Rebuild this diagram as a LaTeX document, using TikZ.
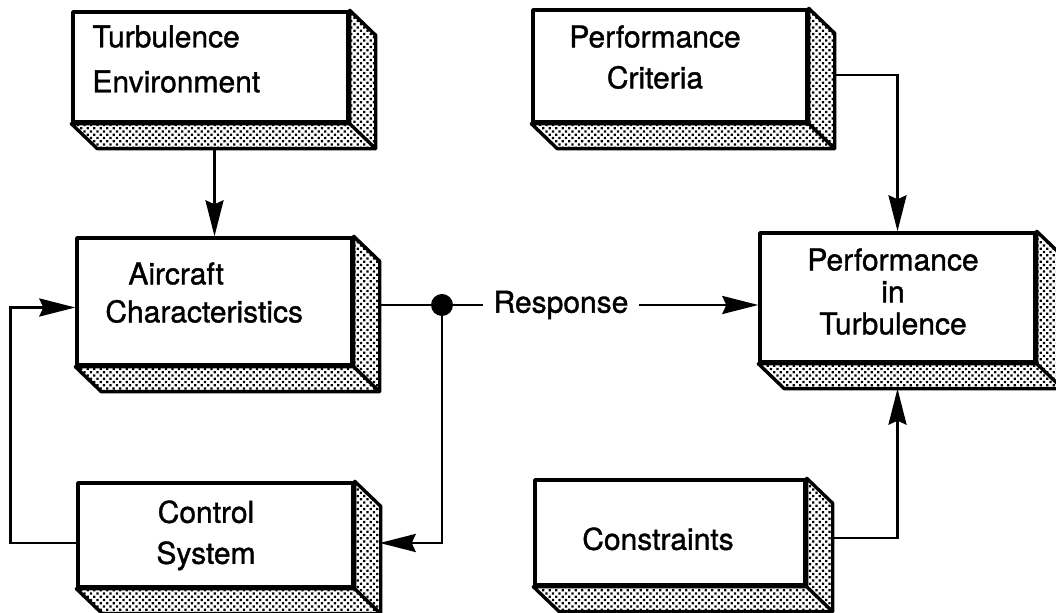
\documentclass[tikz,border=0pt]{standalone}
\usepackage{fontspec}
\setmainfont{TeX Gyre Heros}[FakeBold=1.2]
\newfontfamily\heavysans{TeX Gyre Heros}[FakeBold=1.2]
\usetikzlibrary{arrows.meta,patterns.meta,calc,fit}

\tikzset{
  every node/.style={font=\heavysans\fontsize{15}{19}\selectfont},
  front/.style={draw, line width=1.7pt, inner sep=0pt, line join=round},
  face/.style={draw, line width=1.7pt, line join=round,
    pattern={Dots[distance=2.3pt, angle=45, radius=0.8pt]}, pattern color=black},
  wire/.style={line width=1.3pt},
  arrow/.style={wire, -{Stealth[length=18pt, width=9pt, inset=2pt]}},
  junction/.style={circle, fill, inner sep=0pt, minimum size=11pt},
  caption/.style={inner sep=0pt, align=center},
}

% shaded bottom and right faces of a block, drawn behind its front face
\newcommand\slabdepth[1]{%
  \path[face] (#1.south west) -- ++(26,25) -- ($(#1.south east)+(26,25)$)
    -- ($(#1.north east)+(26,25)$) -- (#1.north east) -- (#1.south east) -- cycle;
  \draw[line width=1.7pt] (#1.south east) -- ++(26,25);}

\begin{document}
\begin{tikzpicture}[x=0.5pt,y=-0.5pt]
\useasboundingbox (0,0) rectangle (1056,613);

% front faces of the blocks
\node[front, fit={(73,12) (348,122)}]    (te)  {};
\node[front, fit={(77,238) (352,365)}]   (ac)  {};
\node[front, fit={(78,483) (353,587)}]   (cs)  {};
\node[front, fit={(533,10) (807,122)}]   (pc)  {};
\node[front, fit={(760,233) (1035,362)}] (pit) {};
\node[front, fit={(535,480) (805,585)}]  (con) {};

\foreach \b in {te,ac,cs,pc,pit,con} {\slabdepth{\b}}

% block texts
\node[caption, align=left, anchor=north west, font=\heavysans\fontsize{15}{22.5}\selectfont]
  (te-txt) at (92,25) {Turbulence\\Environment};
\node[caption, align=left, anchor=north west, font=\heavysans\fontsize{15}{19}\selectfont]
  (ac-txt) at (105,262) {\hspace*{11.5pt}Aircraft\\Characteristics};
\node[caption, anchor=north, font=\heavysans\fontsize{15}{20.5}\selectfont]
  (cs-txt) at (206,500) {Control\\System};
\node[caption, anchor=north, font=\heavysans\fontsize{15}{20.5}\selectfont]
  (pc-txt) at (655,25) {Performance\\Criteria};
\node[caption, anchor=north, font=\heavysans\fontsize{15}{16}\selectfont]
  (pit-txt) at (893,248) {Performance\\in\\Turbulence};
\node[caption, anchor=north] (con-txt) at (658,527) {Constraints};

% junction and response label
\node[junction] (dot) at (442,305) {};
\node[inner xsep=5pt, inner ysep=0pt] (resp) at (561,305) {Response};

% connections
\draw[arrow] (te.south -| ac.north) ++(0,25) -- (ac.north);
\draw[arrow] ($(pc.east)+(26,9)$) -| (pit.north);
\draw[wire]  ($(dot -| ac.east)+(25,0)$) -- (dot);
\draw[wire]  (dot) -- (resp.west);
\draw[arrow] (resp.east) -- (resp.east -| pit.west);
\draw[arrow] (dot) |- ($(cs.east)+(25,8)$);
\draw[arrow] ($(cs.west)+(0,8)$) -- ++(-66,0) |- ($(ac.west)+(0,6)$);
\draw[arrow] ($(con.east)+(26,5.5)$) -| ($(pit.south)+(0,25)$);
\end{tikzpicture}
\end{document}
